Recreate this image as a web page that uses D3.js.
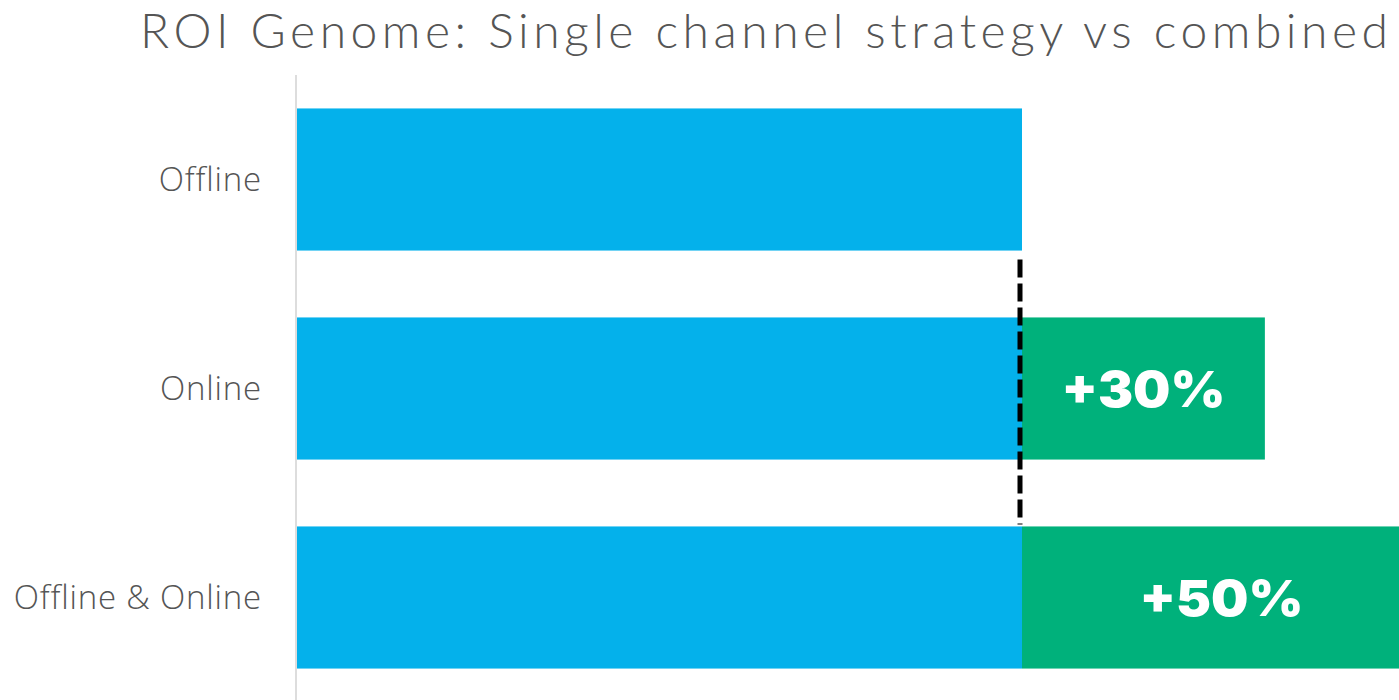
<!DOCTYPE html>
<html>
<head>
<meta charset="utf-8">
<script src="https://cdn.jsdelivr.net/npm/d3@7"></script>
<style>
  body { margin: 0; background: #fff; }
  svg { display: block; }
</style>
</head>
<body>
<div id="chart"></div>
<script>
// Datos del gráfico
const categories = ["Offline", "Online", "Offline & Online"];
const baseValues = [100, 100, 100];
const upliftValues = [0, 33.5, 55];
const upliftLabels = ["", "+30%", "+50%"];
const title = "ROI Genome: Single channel strategy vs combined";

const width = 1399, height = 700;

const svg = d3.select('#chart')
  .append('svg')
  .attr('width', width)
  .attr('height', height);

const x = d3.scaleLinear().domain([0, 100]).range([297, 1022]);
const y = d3.scaleBand().domain(categories).range([75, 702])
  .paddingInner(0.32).paddingOuter(0.16);

// Título
svg.append('text')
  .attr('x', 140)
  .attr('y', 48)
  .attr('font-family', 'Lato, sans-serif')
  .attr('font-weight', 300)
  .attr('font-size', 48)
  .attr('fill', '#555')
  .attr('textLength', 1248)
  .attr('lengthAdjust', 'spacing')
  .text(title);

const rows = categories.map((c, i) => ({
  cat: c, base: baseValues[i], up: upliftValues[i], label: upliftLabels[i]
}));

// Barras base (azul)
svg.selectAll('.base')
  .data(rows)
  .enter()
  .append('rect')
  .attr('class', 'base')
  .attr('x', x(0))
  .attr('y', d => y(d.cat))
  .attr('width', d => x(d.base) - x(0))
  .attr('height', y.bandwidth())
  .attr('fill', '#04b1eb');

// Incremento (verde)
const up = rows.filter(d => d.up > 0);
svg.selectAll('.up')
  .data(up)
  .enter()
  .append('rect')
  .attr('class', 'up')
  .attr('x', d => x(d.base))
  .attr('y', d => y(d.cat))
  .attr('width', d => x(d.base + d.up) - x(d.base))
  .attr('height', y.bandwidth())
  .attr('fill', '#00b17b');

svg.selectAll('.uplabel')
  .data(up)
  .enter()
  .append('text')
  .attr('class', 'uplabel')
  .attr('x', d => (x(d.base) + x(d.base + d.up)) / 2)
  .attr('y', d => y(d.cat) + y.bandwidth() / 2)
  .attr('dy', '0.36em')
  .attr('text-anchor', 'middle')
  .attr('font-family', 'Inter, sans-serif')
  .attr('font-weight', 900)
  .attr('font-size', 50)
  .attr('fill', '#fff')
  .attr('textLength', 164)
  .attr('lengthAdjust', 'spacingAndGlyphs')
  .text(d => d.label);

// Línea discontinua
svg.append('line')
  .attr('x1', x(100) - 2)
  .attr('x2', x(100) - 2)
  .attr('y1', y(categories[0]) + y.bandwidth() + 9)
  .attr('y2', y(categories[2]) - 2)
  .attr('stroke', '#000')
  .attr('stroke-width', 5)
  .attr('stroke-dasharray', '18,6');

// Eje
svg.append('line')
  .attr('x1', 296)
  .attr('x2', 296)
  .attr('y1', 75)
  .attr('y2', height)
  .attr('stroke', '#ddd')
  .attr('stroke-width', 2);

// Etiquetas de categoría
svg.selectAll('.cat')
  .data(categories)
  .enter()
  .append('text')
  .attr('class', 'cat')
  .attr('x', 262)
  .attr('y', d => y(d) + y.bandwidth() / 2)
  .attr('dy', '0.35em')
  .attr('text-anchor', 'end')
  .attr('font-family', 'Open Sans, sans-serif')
  .attr('font-weight', 300)
  .attr('font-size', 33)
  .attr('letter-spacing', 0.8)
  .attr('fill', '#555')
  .text(d => d);
</script>
</body>
</html>
